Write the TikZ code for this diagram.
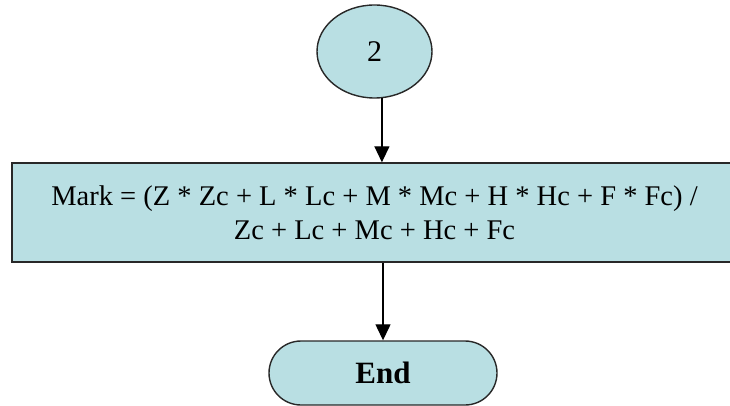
\documentclass[tikz,border=0pt]{standalone}
\usepackage{fontspec}
\setmainfont{Liberation Serif}
\usetikzlibrary{arrows.meta,shapes.geometric}
\definecolor{boxfill}{RGB}{185,223,227}
\definecolor{boxline}{RGB}{40,40,40}
\tikzset{
  shapebase/.style={draw=boxline, fill=boxfill, line width=1.4pt, inner sep=0pt},
  conn/.style={line width=1.3pt, -{Triangle[length=16pt,width=15pt]}},
  bigtext/.style={font=\fontsize{28.5}{34}\selectfont}
}
\begin{document}
\begin{tikzpicture}[x=1pt,y=-1pt]
\useasboundingbox (0,0) rectangle (730,406);
\clip (0,0) rectangle (730,406);
\node[shapebase, ellipse, minimum width=115pt, minimum height=93pt, bigtext, font=\fontsize{30}{34}\selectfont] (ell) at (374.5,51.5) {2};
\node[shapebase, rectangle, minimum width=725pt, minimum height=99pt, bigtext, align=center] (box) at (374.5,212.5) {Mark = (Z * Zc + L * Lc + M * Mc + H * Hc + F * Fc) /\\Zc + Lc + Mc + Hc + Fc};
\node[shapebase, rectangle, rounded corners=32pt, minimum width=228pt, minimum height=64pt, font=\fontsize{31}{34}\selectfont\bfseries] (end) at (383,373) {End};
\draw[conn] (ell.-81) -- (ell.-81 |- box.north);
\draw[conn] (end.north |- box.south) -- (end.north);
\end{tikzpicture}
\end{document}
